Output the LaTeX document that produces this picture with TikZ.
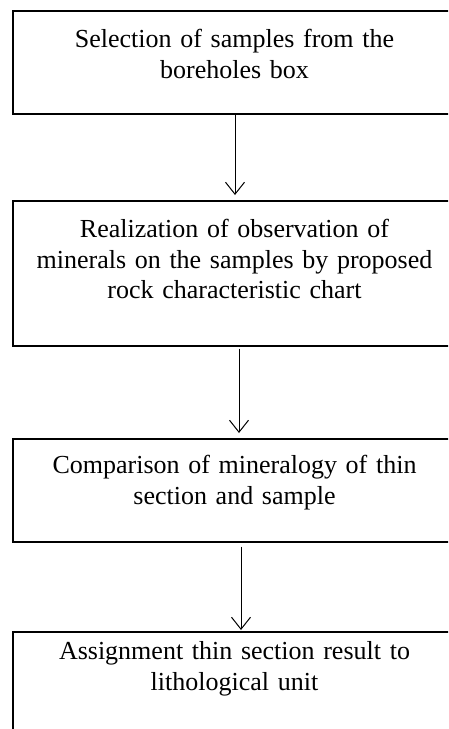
\documentclass[tikz,border=0pt]{standalone}
\usepackage{fontspec}
\setmainfont{Liberation Serif}
\usetikzlibrary{arrows.meta}

\tikzset{
    stepbox/.style={draw,line width=1.5pt,anchor=north,inner sep=0pt,
        minimum width=443pt,text width=443pt,align=center,
        font=\fontsize{26}{30.5}\selectfont},
    flow/.style={line width=1pt,-{Straight Barb[length=12pt,width=19pt]}}
}

\begin{document}
\begin{tikzpicture}[x=1pt,y=1pt]
        % page frame
        \clip (0,0) rectangle (448,-729);

        % the four steps
        \node[stepbox,text height=37pt,text depth=66pt] (select) at (234.5,-10)
            {Selection of samples from the\\boreholes box};
        \node[stepbox,text height=37pt,text depth=108pt] (observe) at (234.5,-200)
            {Realization of observation of\\minerals on the samples by proposed\\rock characteristic chart};
        \node[stepbox,text height=35pt,text depth=68pt] (compare) at (234.5,-438)
            {Comparison of mineralogy of thin\\section and sample};
        \node[stepbox,text height=28pt,text depth=130pt] (assign) at (234.5,-631)
            {Assignment thin section result to\\lithological unit};

        % arrows between the steps
        \foreach \a/\b/\dx/\s/\e in {
            select/observe/0.5/0.5/5,
            observe/compare/4.5/2/5,
            compare/assign/6.5/4/1}
                \draw[flow,shorten <=\s pt,shorten >=\e pt]
                    ([xshift=\dx pt]\a.south) -- ([xshift=\dx pt]\b.north);
\end{tikzpicture}
\end{document}
